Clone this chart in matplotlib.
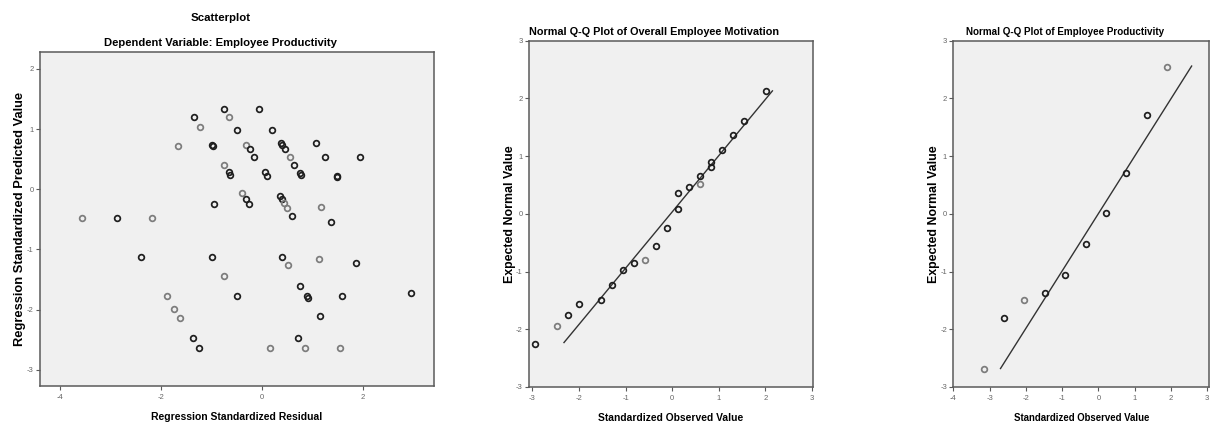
"""
SPSS-style regression diagnostics: residual scatterplot + two normal Q-Q plots.
"""

import matplotlib
matplotlib.use("Agg")
import matplotlib.pyplot as plt

plt.rcParams["font.family"] = ["Liberation Sans", "DejaVu Sans"]

# ── panel 1: standardized residual vs standardized predicted value ─────────
RESID = [-3.56, -2.88, -2.18, -2.39, -1.67, -1.89, -1.74, -1.62, -1.37, -1.25,
         -1.35, -1.22, -0.76, -0.65, -0.50, -1.00, -0.98, -0.96, -1.00, -0.75,
         -0.65, -0.63, -0.75, -0.50, -0.31, -0.24, -0.15, -0.40, -0.31, -0.26,
         -0.06, 0.20, 0.05, 0.09, 0.38, 0.40, 0.46, 0.56, 0.64, 0.75,
         0.78, 0.35, 0.39, 0.43, 0.49, 0.59, 1.07, 1.25, 1.48, 1.49,
         1.95, 1.17, 1.36, 0.40, 0.52, 1.13, 1.87, 0.76, 0.89, 0.92,
         1.58, 1.14, 0.72, 0.15, 0.85, 1.54, 2.96]
PRED = [-0.48, -0.48, -0.48, -1.12, 0.71, -1.78, -1.99, -2.14, -2.48, -2.64,
        1.20, 1.04, 1.34, 1.20, 0.99, 0.73, 0.71, -0.24, -1.12, 0.41,
        0.28, 0.23, -1.45, -1.77, 0.74, 0.66, 0.53, -0.06, -0.16, -0.24,
        1.34, 0.99, 0.28, 0.22, 0.77, 0.74, 0.66, 0.53, 0.41, 0.27,
        0.23, -0.12, -0.16, -0.23, -0.32, -0.45, 0.76, 0.53, 0.22, 0.20,
        0.53, -0.29, -0.54, -1.12, -1.26, -1.16, -1.22, -1.60, -1.77, -1.81,
        -1.77, -2.10, -2.48, -2.64, -2.64, -2.64, -1.73]
# cases drawn at each marker (overlapping markers print darker in SPSS)
CASES = [1, 2, 1, 2, 1, 1, 1, 1, 2, 2,
         2, 1, 2, 1, 2, 2, 2, 2, 2, 1,
         2, 2, 1, 2, 1, 2, 2, 1, 2, 2,
         2, 2, 2, 2, 2, 2, 2, 1, 2, 2,
         2, 2, 2, 1, 1, 2, 2, 2, 2, 2,
         2, 1, 2, 2, 1, 1, 2, 2, 2, 2,
         2, 2, 2, 1, 1, 1, 2]

# ── panel 2: Q-Q plot of overall employee motivation ──────────────────────
MOT_OBS = [-2.94, -2.47, -2.24, -2.00, -1.53, -1.29, -1.06, -0.82, -0.58, -0.35, -0.12,
           0.12, 0.12, 0.36, 0.60, 0.60, 0.83, 0.83, 1.07, 1.30, 1.54, 2.01]
MOT_EXP = [-2.25, -1.94, -1.76, -1.57, -1.49, -1.24, -0.97, -0.85, -0.80, -0.56, -0.24,
           0.09, 0.36, 0.46, 0.52, 0.66, 0.81, 0.89, 1.11, 1.37, 1.61, 2.13]
MOT_CASES = [2, 1, 2, 2, 2, 2, 2, 2, 1, 2, 2, 2, 2, 2, 1, 2, 2, 2, 2, 2, 2, 2]
MOT_LINE_X = [-2.32, 2.15]
MOT_LINE_Y = [-2.23, 2.13]

# ── panel 3: Q-Q plot of employee productivity ────────────────────────────
PROD_OBS = [-3.16, -2.60, -2.04, -1.47, -0.91, -0.35, 0.21, 0.77, 1.33, 1.89]
PROD_EXP = [-2.68, -1.80, -1.49, -1.37, -1.06, -0.53, 0.02, 0.71, 1.71, 2.55]
PROD_CASES = [1, 2, 1, 2, 2, 2, 2, 2, 2, 1]
PROD_LINE_X = [-2.70, 2.57]
PROD_LINE_Y = [-2.68, 2.56]

DARK = "#1E1E1E"
LIGHT = "#7C7C7C"
BG = "#F0F0F0"
SPINE = "#5A5A5A"


def style_axes(ax, xticks, yticks):
    ax.set_facecolor(BG)
    for spine in ax.spines.values():
        spine.set_edgecolor(SPINE)
        spine.set_linewidth(1.1)
    ax.set_xticks(xticks)
    ax.set_yticks(yticks)
    ax.set_xticklabels([str(t) for t in xticks])
    ax.set_yticklabels([str(t) for t in yticks])
    ax.tick_params(direction="out", length=3, width=0.8, color=SPINE,
                   labelsize=5.5, labelcolor="#666666", pad=1.5)
    ax.tick_params(axis="x", pad=3)


def draw_points(ax, xs, ys, cases):
    for x, y, n in zip(xs, ys, cases):
        ax.plot(x, y, linestyle="none", marker="o", markersize=4.1,
                mfc="none", mec=DARK if n > 1 else LIGHT, mew=1.25)


fig = plt.figure(figsize=(12.1, 4.28), dpi=100)
fig.patch.set_facecolor("white")

# scatterplot
ax1 = fig.add_axes([0.0331, 0.0981, 0.3256, 0.7804])
draw_points(ax1, RESID, PRED, CASES)
ax1.set_xlim(-4.40, 3.41)
ax1.set_ylim(-3.27, 2.28)
style_axes(ax1, [-4, -2, 0, 2], [-3, -2, -1, 0, 1, 2])
ax1.set_xlabel("Regression Standardized Residual", fontsize=7.5, fontweight="bold", labelpad=8)
ax1.set_ylabel("Regression Standardized Predicted Value", fontsize=9.3, fontweight="bold", labelpad=1)
fig.text(0.182, 0.958, "Scatterplot", ha="center", va="center", fontsize=8.2, fontweight="bold")
fig.text(0.182, 0.8995, "Dependent Variable: Employee Productivity", ha="center", va="center",
         fontsize=8.1, fontweight="bold")

# Q-Q motivation
ax2 = fig.add_axes([0.4372, 0.0958, 0.2347, 0.8092])
ax2.plot(MOT_LINE_X, MOT_LINE_Y, color="#333333", lw=1.0)
draw_points(ax2, MOT_OBS, MOT_EXP, MOT_CASES)
ax2.set_xlim(-3.07, 3.02)
ax2.set_ylim(-3, 3)
style_axes(ax2, [-3, -2, -1, 0, 1, 2, 3], [-3, -2, -1, 0, 1, 2, 3])
ax2.set_xlabel("Standardized Observed Value", fontsize=7.4, fontweight="bold", labelpad=8)
ax2.set_ylabel("Expected Normal Value", fontsize=8.9, fontweight="bold", labelpad=0)
fig.text(0.5405, 0.925, "Normal Q-Q Plot of Overall Employee Motivation", ha="center", va="center",
         fontsize=7.8, fontweight="bold")

# Q-Q productivity
ax3 = fig.add_axes([0.7879, 0.0958, 0.2113, 0.8092])
ax3.plot(PROD_LINE_X, PROD_LINE_Y, color="#333333", lw=1.0)
draw_points(ax3, PROD_OBS, PROD_EXP, PROD_CASES)
ax3.set_xlim(-4, 3.05)
ax3.set_ylim(-3, 3)
style_axes(ax3, [-4, -3, -2, -1, 0, 1, 2, 3], [-3, -2, -1, 0, 1, 2, 3])
ax3.set_xlabel("Standardized Observed Value", fontsize=6.9, fontweight="bold", labelpad=8)
ax3.set_ylabel("Expected Normal Value", fontsize=8.9, fontweight="bold", labelpad=0)
fig.text(0.880, 0.925, "Normal Q-Q Plot of Employee Productivity", ha="center", va="center",
         fontsize=7.1, fontweight="bold")

plt.savefig("out.png", dpi=100, facecolor="white")
plt.close()
